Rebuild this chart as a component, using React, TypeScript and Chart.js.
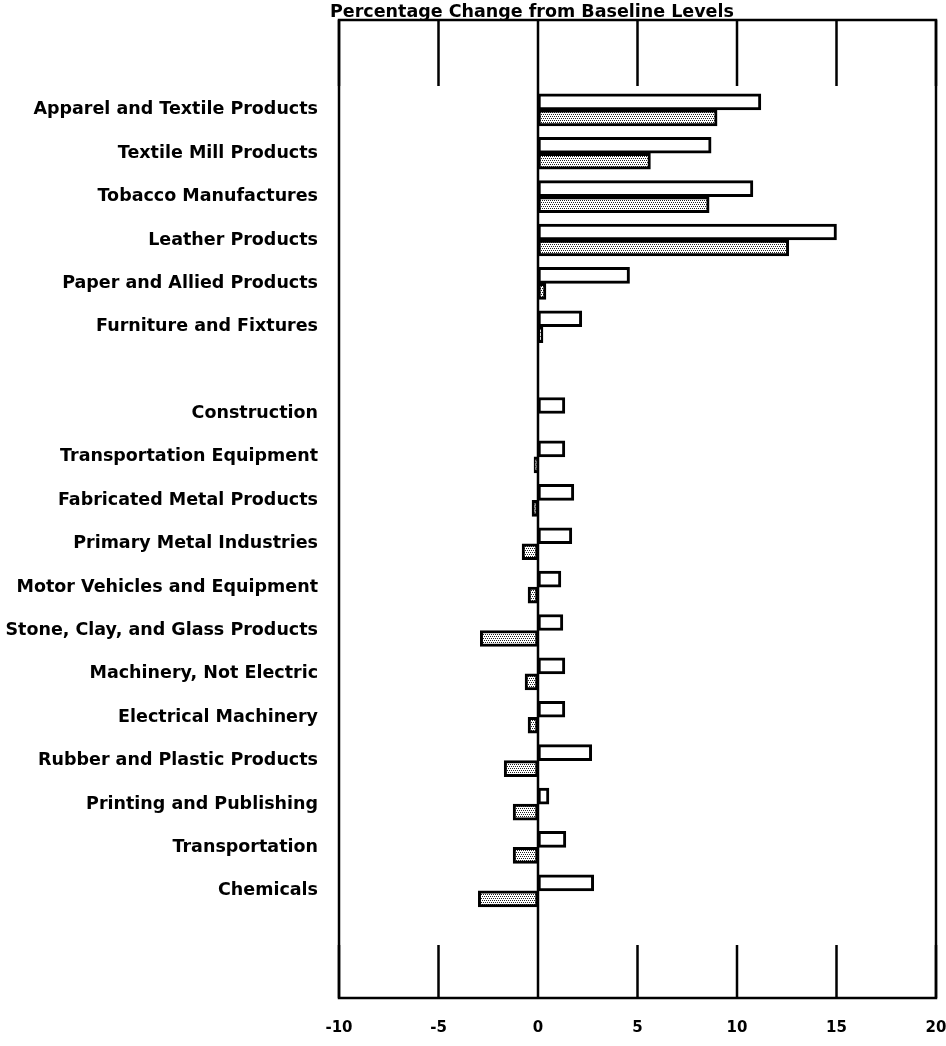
import React, { useEffect, useRef } from 'react';
import { Chart, registerables } from 'chart.js';

Chart.register(...registerables);

const categories = [
  'Apparel and Textile Products',
  'Textile Mill Products',
  'Tobacco Manufactures',
  'Leather Products',
  'Paper and Allied Products',
  'Furniture and Fixtures',
  '',
  'Construction',
  'Transportation Equipment',
  'Fabricated Metal Products',
  'Primary Metal Industries',
  'Motor Vehicles and Equipment',
  'Stone, Clay, and Glass Products',
  'Machinery, Not Electric',
  'Electrical Machinery',
  'Rubber and Plastic Products',
  'Printing and Publishing',
  'Transportation',
  'Chemicals',
];

const whiteValues: (number | null)[] = [11.2, 8.7, 10.8, 15.0, 4.6, 2.2, null, 1.35, 1.35, 1.8, 1.7, 1.15, 1.25, 1.35, 1.35, 2.7, 0.55, 1.4, 2.8];
const dottedValues: (number | null)[] = [9.0, 5.65, 8.6, 12.6, 0.4, 0.25, null, 0, -0.2, -0.3, -0.8, -0.5, -2.9, -0.65, -0.5, -1.7, -1.25, -1.25, -3.0];

const xTicks = [-10, -5, 0, 5, 10, 15, 20];
const titleText = 'Percentage Change from Baseline Levels';

function toPoints(vals: (number | null)[]) {
  const out: { x: number; y: number }[] = [];
  vals.forEach((v, i) => {
    if (v !== null) out.push({ x: v, y: i });
  });
  return out;
}

function makePattern(ctx: CanvasRenderingContext2D) {
  const c = document.createElement('canvas');
  c.width = 4;
  c.height = 4;
  const g = c.getContext('2d')!;
  g.fillStyle = '#ffffff';
  g.fillRect(0, 0, 4, 4);
  g.fillStyle = '#222222';
  [[0, 0], [2, 0], [1, 2], [3, 2]].forEach(([x, y]) => g.fillRect(x, y, 1, 1));
  return ctx.createPattern(c, 'repeat');
}

export default function App() {
  const ref = useRef<HTMLCanvasElement>(null);

  useEffect(() => {
    const canvas = ref.current!;
    const ctx0 = canvas.getContext('2d')!;
    const pattern = makePattern(ctx0);

    const framePlugin = {
      id: 'frameTicks',
      afterDatasetsDraw(chart: any) {
        const { ctx, chartArea: a, scales } = chart;
        const xs = scales.x;
        ctx.save();
        ctx.strokeStyle = '#000';
        ctx.lineWidth = 2.5;
        ctx.strokeRect(a.left, a.top, a.right - a.left, a.bottom - a.top);
        xTicks.forEach((v) => {
          const px = xs.getPixelForValue(v);
          ctx.beginPath();
          if (v === 0) {
            ctx.moveTo(px, a.top);
            ctx.lineTo(px, a.bottom);
          } else {
            ctx.moveTo(px, a.top);
            ctx.lineTo(px, a.top + 66);
            ctx.moveTo(px, a.bottom - 53);
            ctx.lineTo(px, a.bottom);
          }
          ctx.stroke();
        });
        ctx.fillStyle = '#000';
        ctx.font = 'bold 17.5px "DejaVu Sans"';
        ctx.textAlign = 'left';
        ctx.textBaseline = 'alphabetic';
        ctx.fillText(titleText, a.left - 9, 17);
        ctx.restore();
      },
    };

    const chart = new Chart(canvas, {
      type: 'bar',
      data: {
        datasets: [
          {
            label: 'white',
            data: toPoints(whiteValues),
            backgroundColor: '#ffffff',
            borderColor: '#000000',
            borderWidth: 3,
            borderSkipped: false,
            barThickness: 16,
          },
          {
            label: 'dotted',
            data: toPoints(dottedValues),
            backgroundColor: pattern as any,
            borderColor: '#000000',
            borderWidth: 3,
            borderSkipped: false,
            barThickness: 16,
          },
        ],
      } as any,
      options: {
        indexAxis: 'y',
        animation: false,
        responsive: false,
        devicePixelRatio: 1,
        layout: { padding: { left: 0, right: 10, top: 20, bottom: 0 } },
        plugins: {
          legend: { display: false },
          tooltip: { enabled: false },
          title: { display: false },
        },
        scales: {
          x: {
            type: 'linear',
            min: -10,
            max: 20,
            offset: false,
            afterBuildTicks: (s: any) => {
              s.ticks = xTicks.map((v) => ({ value: v }));
            },
            grid: { display: false, drawTicks: false },
            border: { display: false },
            ticks: {
              padding: 21,
              color: '#000',
              autoSkip: false,
              maxRotation: 0,
              font: { family: 'DejaVu Sans', weight: 'bold', size: 15 },
              callback: (v: any) => String(v),
            },
            afterFit: (s: any) => {
              s.height = 48;
              s.paddingLeft = 0;
              s.paddingRight = 0;
            },
          },
          y: {
            type: 'linear',
            reverse: true,
            offset: false,
            min: -2.07,
            max: 20.47,
            afterBuildTicks: (s: any) => {
              s.ticks = categories.map((_, i) => ({ value: i }));
            },
            grid: { display: false, drawTicks: false, offset: false },
            border: { display: false },
            ticks: {
              padding: 21,
              color: '#000',
              autoSkip: false,
              font: { family: 'DejaVu Sans', weight: 'bold', size: 17.5 },
              callback: (v: any) => categories[v as number] ?? '',
            },
            afterFit: (s: any) => {
              s.width = 339;
              s.paddingTop = 0;
              s.paddingBottom = 0;
            },
          },
        },
      } as any,
      plugins: [framePlugin],
    });

    return () => chart.destroy();
  }, []);

  return (
    <canvas
      ref={ref}
      width={946}
      height={1046}
      style={{ position: 'absolute', left: 0, top: 0, width: 946, height: 1046, display: 'block' }}
    />
  );
}
